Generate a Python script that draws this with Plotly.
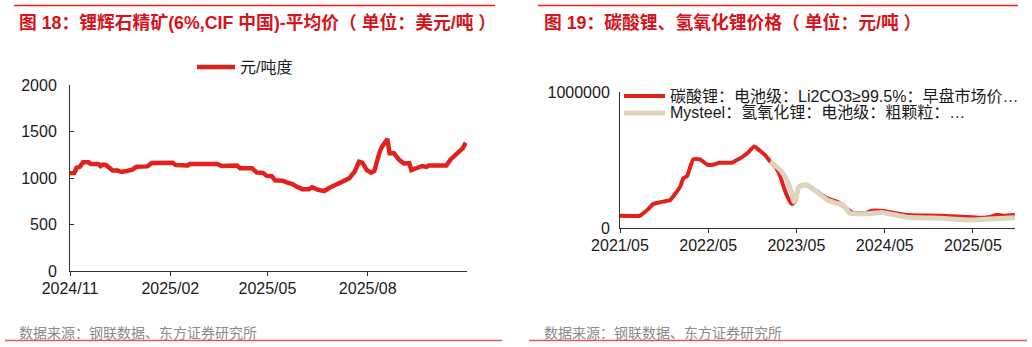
import plotly.graph_objects as go

# ---- Figure 18: spodumene concentrate (6%, CIF China) average price ----
spod_dates = [
    "2024-11-01", "2024-11-05", "2024-11-07", "2024-11-10", "2024-11-13", "2024-11-18",
    "2024-11-20", "2024-11-27", "2024-11-29", "2024-12-01", "2024-12-04", "2024-12-08",
    "2024-12-10", "2024-12-15", "2024-12-18", "2024-12-23", "2024-12-28", "2025-01-01",
    "2025-01-11", "2025-01-15", "2025-02-03", "2025-02-06", "2025-02-17", "2025-02-19",
    "2025-03-16", "2025-03-20", "2025-03-30", "2025-04-03", "2025-04-06", "2025-04-17",
    "2025-04-21", "2025-04-27", "2025-04-30", "2025-05-05", "2025-05-08", "2025-05-15",
    "2025-05-18", "2025-05-24", "2025-05-28", "2025-06-02", "2025-06-08", "2025-06-11",
    "2025-06-16", "2025-06-22", "2025-06-27", "2025-07-01", "2025-07-06", "2025-07-15",
    "2025-07-20", "2025-07-24", "2025-07-27", "2025-07-31", "2025-08-04", "2025-08-07",
    "2025-08-12", "2025-08-14", "2025-08-19", "2025-08-21", "2025-08-25", "2025-08-27",
    "2025-08-30", "2025-09-03", "2025-09-08", "2025-09-10", "2025-09-15", "2025-09-20",
    "2025-09-24", "2025-09-26", "2025-10-12", "2025-10-16", "2025-10-22", "2025-10-27",
    "2025-10-30",
]
spod_price = [
    1050, 1055, 1110, 1120, 1170, 1170,
    1150, 1150, 1128, 1145, 1140, 1100,
    1080, 1080, 1065, 1075, 1090, 1120,
    1125, 1162, 1165, 1140, 1135, 1150,
    1150, 1130, 1130, 1135, 1105, 1105,
    1060, 1055, 1025, 1020, 975, 970,
    955, 935, 905, 880, 880, 900,
    875, 860, 895, 915, 943, 996,
    1068, 1175, 1165, 1086, 1057, 1075,
    1283, 1336, 1420, 1265, 1265, 1229,
    1193, 1157, 1160, 1086, 1111, 1129,
    1120, 1135, 1135, 1200, 1265, 1319,
    1379,
]
spod_name = "元/吨度"
spod_ticks = ["2024-11-01", "2025-02-01", "2025-05-01", "2025-08-01"]
spod_ticktext = ["2024/11", "2025/02", "2025/05", "2025/08"]

# ---- Figure 19: lithium carbonate / lithium hydroxide prices ----
carb_dates = [
    "2021-05-01", "2021-07-22", "2021-08-05", "2021-08-25", "2021-09-15", "2021-10-13",
    "2021-11-25", "2021-12-15", "2022-01-05", "2022-01-18", "2022-02-03", "2022-02-16",
    "2022-02-28", "2022-03-28", "2022-04-25", "2022-05-16", "2022-06-18", "2022-08-07",
    "2022-08-28", "2022-09-10", "2022-10-10", "2022-11-07", "2022-12-01", "2022-12-22",
    "2023-01-13", "2023-02-03", "2023-02-24", "2023-03-07", "2023-03-25", "2023-04-12",
    "2023-04-27", "2023-05-10", "2023-05-27", "2023-06-13", "2023-07-24", "2023-09-06",
    "2023-10-16", "2023-10-28", "2023-11-26", "2023-12-19", "2024-02-18", "2024-03-09",
    "2024-04-24", "2024-06-04", "2024-08-01", "2024-12-18", "2025-05-01", "2025-06-12",
    "2025-07-10", "2025-08-08", "2025-09-03", "2025-10-22",
]
carb_price = [
    90000, 90000, 108000, 137000, 176000, 189000,
    206000, 250000, 304000, 365000, 382000, 451000,
    505000, 505000, 468000, 463000, 480000, 480000,
    500000, 512000, 549000, 600000, 568000, 537000,
    488000, 451000, 377000, 316000, 230000, 176000,
    200000, 300000, 316000, 316000, 270000, 218000,
    194000, 181000, 140000, 113000, 113000, 127000,
    125000, 112000, 96000, 90000, 79000, 75000,
    82000, 98000, 90000, 95000,
]
carb_name = "碳酸锂：电池级：Li2CO3≥99.5%：早盘市场价…"
hydr_dates = [
    "2023-01-13", "2023-02-24", "2023-03-22", "2023-04-12", "2023-04-20", "2023-04-27",
    "2023-05-12", "2023-06-13", "2023-07-24", "2023-09-06", "2023-10-16", "2023-11-10",
    "2023-12-09", "2024-02-18", "2024-04-24", "2024-08-01", "2024-12-18", "2025-05-01",
    "2025-07-10", "2025-10-22",
]
hydr_price = [
    488000, 426000, 353000, 255000, 194000, 215000,
    304000, 316000, 267000, 206000, 181000, 170000,
    108000, 105000, 113000, 79000, 71000, 59000,
    66000, 76000,
]
hydr_name = "Mysteel：氢氧化锂：电池级：粗颗粒：…"
li_ticks = ["2021-05-01", "2022-05-01", "2023-05-01", "2024-05-01", "2025-05-01"]
li_ticktext = ["2021/05", "2022/05", "2023/05", "2024/05", "2025/05"]

W, H = 1032, 347
RED = "#e3211c"
TITLE_RED = "#d7141b"
BEIGE = "#ddd4bd"
FONT = "Liberation Sans, Arial, Noto Sans CJK SC, sans-serif"
TICK_FONT = dict(family=FONT, size=16, color="#1a1a1a")


def px_x(x):
    return x / W


def px_y(y):
    return 1 - y / H


fig = go.Figure()

fig.add_trace(go.Scatter(
    x=spod_dates, y=spod_price, mode="lines", name=spod_name,
    line=dict(color=RED, width=4.5), xaxis="x", yaxis="y", showlegend=False,
))
fig.add_trace(go.Scatter(
    x=carb_dates, y=carb_price, mode="lines", name=carb_name,
    line=dict(color=RED, width=4, shape="spline", smoothing=0.4),
    xaxis="x2", yaxis="y2", showlegend=False,
))
fig.add_trace(go.Scatter(
    x=hydr_dates, y=hydr_price, mode="lines", name=hydr_name,
    line=dict(color=BEIGE, width=5, shape="spline", smoothing=0.4),
    xaxis="x2", yaxis="y2", showlegend=False,
))

axis_common = dict(
    showgrid=False, zeroline=False, showline=True, linecolor="#333333",
    linewidth=1, tickfont=TICK_FONT, tickcolor="#333333", ticklen=4,
    automargin=False,
)

fig.update_layout(
    template="none",
    width=W, height=H,
    margin=dict(l=0, r=0, t=0, b=0, autoexpand=False),
    paper_bgcolor="white", plot_bgcolor="white",
    xaxis=dict(domain=[px_x(70), px_x(467)], range=["2024-11-01", "2025-10-31"],
               tickvals=spod_ticks, ticktext=spod_ticktext, ticks="outside",
               ticklabelstandoff=-1, anchor="y", **axis_common),
    yaxis=dict(domain=[px_y(271), px_y(85)], range=[0, 2000],
               tickvals=[0, 500, 1000, 1500, 2000], ticks="inside",
               ticklabelstandoff=9, anchor="x", **axis_common),
    xaxis2=dict(domain=[px_x(620), px_x(1015)], range=["2021-05-01", "2025-10-22"],
                tickvals=li_ticks, ticktext=li_ticktext, ticks="outside",
                ticklabelstandoff=-1, anchor="y2", **axis_common),
    yaxis2=dict(domain=[px_y(228), px_y(92)], range=[0, 1000000],
                tickvals=[0, 1000000], ticktext=["0", "1000000"], ticks="inside",
                ticklabelstandoff=6, anchor="x2", **axis_common),
    showlegend=False,
)

# legend keys drawn as short line segments with labels
legend_items = [
    (197, 235, 67, RED, 4.5, spod_name),
    (624, 665, 96, RED, 4, carb_name),
    (624, 665, 113, BEIGE, 5, hydr_name),
]
for x0, x1, y, color, width, label in legend_items:
    fig.add_shape(type="line", xref="paper", yref="paper",
                  x0=px_x(x0), x1=px_x(x1), y0=px_y(y), y1=px_y(y),
                  line=dict(color=color, width=width))
    fig.add_annotation(x=px_x(x1 + 3), y=px_y(y), xref="paper", yref="paper",
                       xanchor="left", yanchor="middle", showarrow=False,
                       text=label, font=dict(family=FONT, size=16, color="#1a1a1a"))

# header rules and titles
for x0, x1 in [(14, 495), (538, 1018)]:
    fig.add_shape(type="line", xref="paper", yref="paper",
                  x0=px_x(x0), x1=px_x(x1), y0=px_y(5.5), y1=px_y(5.5),
                  line=dict(color=RED, width=1.5))
for x0, x1 in [(5, 502), (529, 1027)]:
    fig.add_shape(type="line", xref="paper", yref="paper",
                  x0=px_x(x0), x1=px_x(x1), y0=px_y(340.5), y1=px_y(340.5),
                  line=dict(color="#e05a5a", width=1.5))

titles = [
    (17, "图 18：锂辉石精矿(6%,CIF 中国)-平均价（ 单位：美元/吨 ）"),
    (542, "图 19：碳酸锂、氢氧化锂价格（ 单位：元/吨 ）"),
]
for x, text in titles:
    fig.add_annotation(x=px_x(x), y=px_y(22.5), xref="paper", yref="paper",
                       xanchor="left", yanchor="middle", showarrow=False,
                       text="<b>" + text + "</b>",
                       font=dict(family=FONT, size=17.8, color=TITLE_RED))

for x in (17, 542):
    fig.add_annotation(x=px_x(x), y=px_y(332), xref="paper", yref="paper",
                       xanchor="left", yanchor="middle", showarrow=False,
                       text="数据来源：钢联数据、东方证券研究所",
                       font=dict(family="Noto Sans CJK SC, sans-serif", size=14,
                                 color="#8a8a8a"))

fig.write_html("out.html")
